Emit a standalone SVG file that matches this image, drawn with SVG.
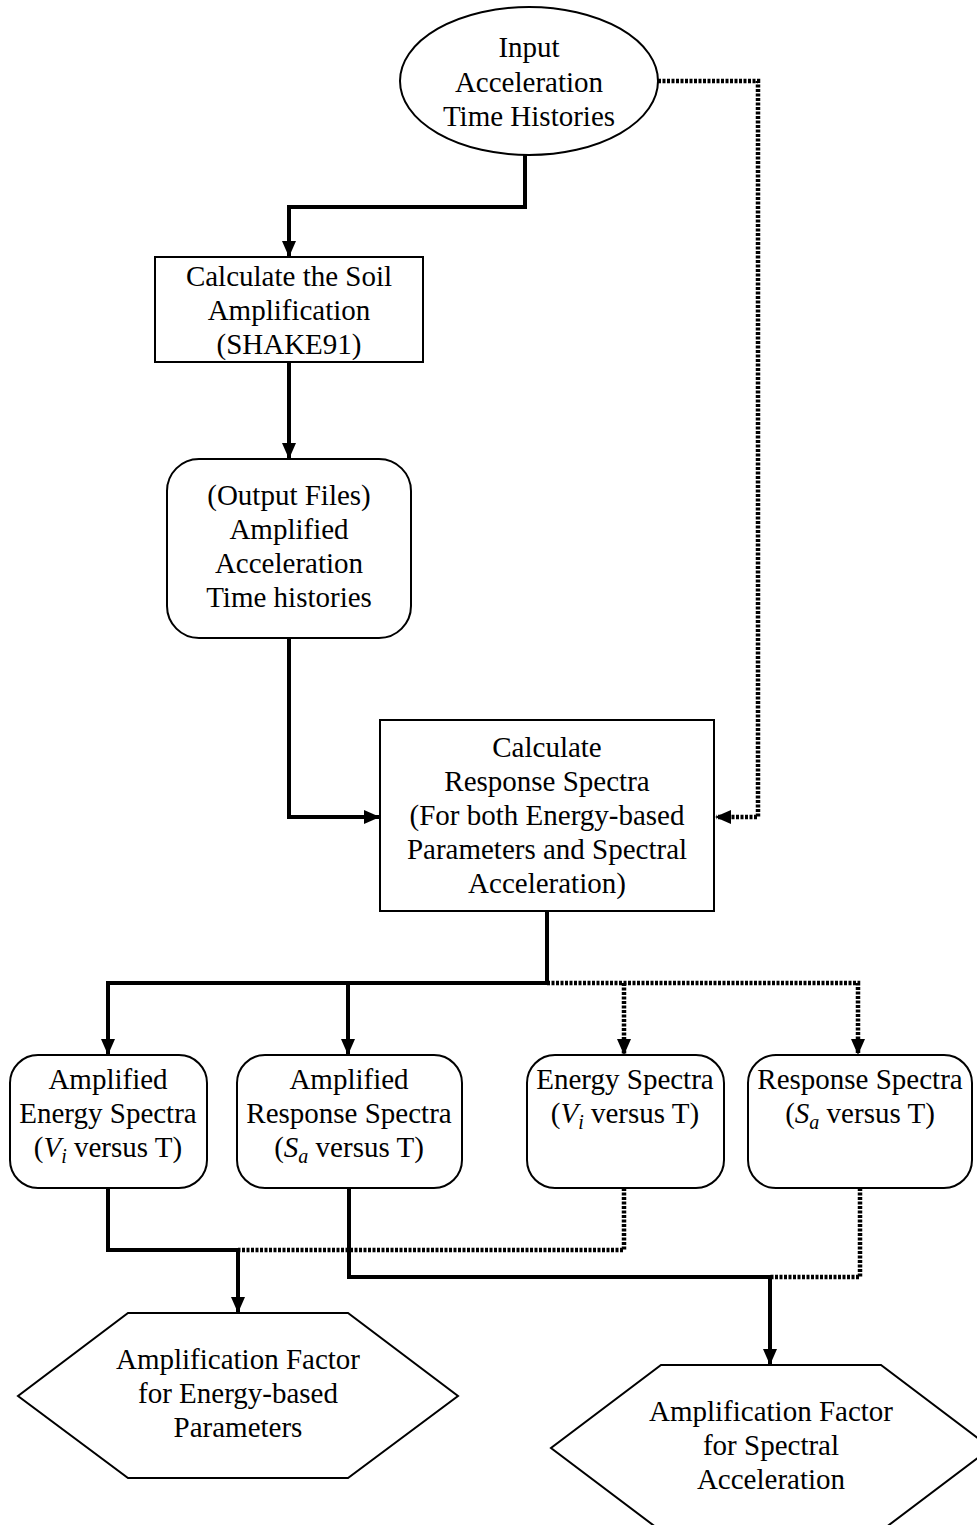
<svg xmlns="http://www.w3.org/2000/svg" width="977" height="1525" viewBox="0 0 977 1525">
<style>
.n{fill:#fff;stroke:#000;stroke-width:2}
.t{font-family:"Liberation Serif","Times New Roman",serif;font-size:29px;fill:#000;text-anchor:middle}
.s{fill:none;stroke:#000;stroke-width:4}
.d{fill:none;stroke:#000;stroke-width:4.5;stroke-dasharray:3 1.5}
.i{font-style:italic}
</style>
<defs>
<marker id="ah" markerUnits="userSpaceOnUse" markerWidth="16" markerHeight="14" refX="15" refY="7" orient="auto">
<path d="M0,0 L16,7 L0,14 z" fill="#000"/>
</marker>
</defs>
<rect width="977" height="1525" fill="#fff"/>
<g id="connectors">
<path class="s" d="M525,155 V207 H289 V256" marker-end="url(#ah)"/>
<path class="s" d="M289,362 V458" marker-end="url(#ah)"/>
<path class="s" d="M289,638 V817 H379" marker-end="url(#ah)"/>
<path class="d" d="M658,81 H758 V817 H716" marker-end="url(#ah)"/>
<path class="s" d="M547,911 V983 H108 V1054" marker-end="url(#ah)"/>
<path class="s" d="M348,983 V1054" marker-end="url(#ah)"/>
<path class="d" d="M547,983 H858 V1054" marker-end="url(#ah)"/>
<path class="d" d="M624,983 V1054" marker-end="url(#ah)"/>
<path class="d" d="M624,1188 V1250 H238"/>
<path class="s" d="M108,1188 V1250 H238 V1312" marker-end="url(#ah)"/>
<path class="d" d="M860,1188 V1277 H770"/>
<path class="s" d="M349,1188 V1277 H770 V1364" marker-end="url(#ah)"/>
</g>
<g id="input">
<ellipse class="n" cx="529" cy="81" rx="129" ry="74"/>
<text class="t" x="529" y="57">Input</text>
<text class="t" x="529" y="92">Acceleration</text>
<text class="t" x="529" y="126">Time Histories</text>
</g>
<g id="shake">
<rect class="n" x="155" y="257" width="268" height="105"/>
<text class="t" x="289" y="286">Calculate the Soil</text>
<text class="t" x="289" y="320">Amplification</text>
<text class="t" x="289" y="354">(SHAKE91)</text>
</g>
<g id="output">
<rect class="n" x="167" y="459" width="244" height="179" rx="32"/>
<text class="t" x="289" y="505">(Output Files)</text>
<text class="t" x="289" y="539">Amplified</text>
<text class="t" x="289" y="573">Acceleration</text>
<text class="t" x="289" y="607">Time histories</text>
</g>
<g id="response">
<rect class="n" x="380" y="720" width="334" height="191"/>
<text class="t" x="547" y="757">Calculate</text>
<text class="t" x="547" y="791">Response Spectra</text>
<text class="t" x="547" y="825">(For both Energy-based</text>
<text class="t" x="547" y="859">Parameters and Spectral</text>
<text class="t" x="547" y="893">Acceleration)</text>
</g>
<g id="ampEnergy">
<rect class="n" x="10" y="1055" width="197" height="133" rx="28"/>
<text class="t" x="108" y="1089">Amplified</text>
<text class="t" x="108" y="1123">Energy Spectra</text>
<text class="t" x="108" y="1157">(<tspan class="i">V</tspan><tspan class="i" font-size="20" dy="6">i</tspan><tspan dy="-6"> versus T)</tspan></text>
</g>
<g id="ampResponse">
<rect class="n" x="237" y="1055" width="225" height="133" rx="28"/>
<text class="t" x="349" y="1089">Amplified</text>
<text class="t" x="349" y="1123">Response Spectra</text>
<text class="t" x="349" y="1157">(<tspan class="i">S</tspan><tspan class="i" font-size="20" dy="6">a</tspan><tspan dy="-6"> versus T)</tspan></text>
</g>
<g id="energy">
<rect class="n" x="527" y="1055" width="197" height="133" rx="28"/>
<text class="t" x="625" y="1089">Energy Spectra</text>
<text class="t" x="625" y="1123">(<tspan class="i">V</tspan><tspan class="i" font-size="20" dy="6">i</tspan><tspan dy="-6"> versus T)</tspan></text>
</g>
<g id="responseSp">
<rect class="n" x="748" y="1055" width="224" height="133" rx="28"/>
<text class="t" x="860" y="1089">Response Spectra</text>
<text class="t" x="860" y="1123">(<tspan class="i">S</tspan><tspan class="i" font-size="20" dy="6">a</tspan><tspan dy="-6"> versus T)</tspan></text>
</g>
<g id="afEnergy">
<polygon class="n" points="128,1313 348,1313 458,1396 348,1478 128,1478 18,1396"/>
<text class="t" x="238" y="1369">Amplification Factor</text>
<text class="t" x="238" y="1403">for Energy-based</text>
<text class="t" x="238" y="1437">Parameters</text>
</g>
<g id="afSpectral">
<polygon class="n" points="661,1365 881,1365 991,1448 881,1531 661,1531 551,1448"/>
<text class="t" x="771" y="1421">Amplification Factor</text>
<text class="t" x="771" y="1455">for Spectral</text>
<text class="t" x="771" y="1489">Acceleration</text>
</g>
</svg>
